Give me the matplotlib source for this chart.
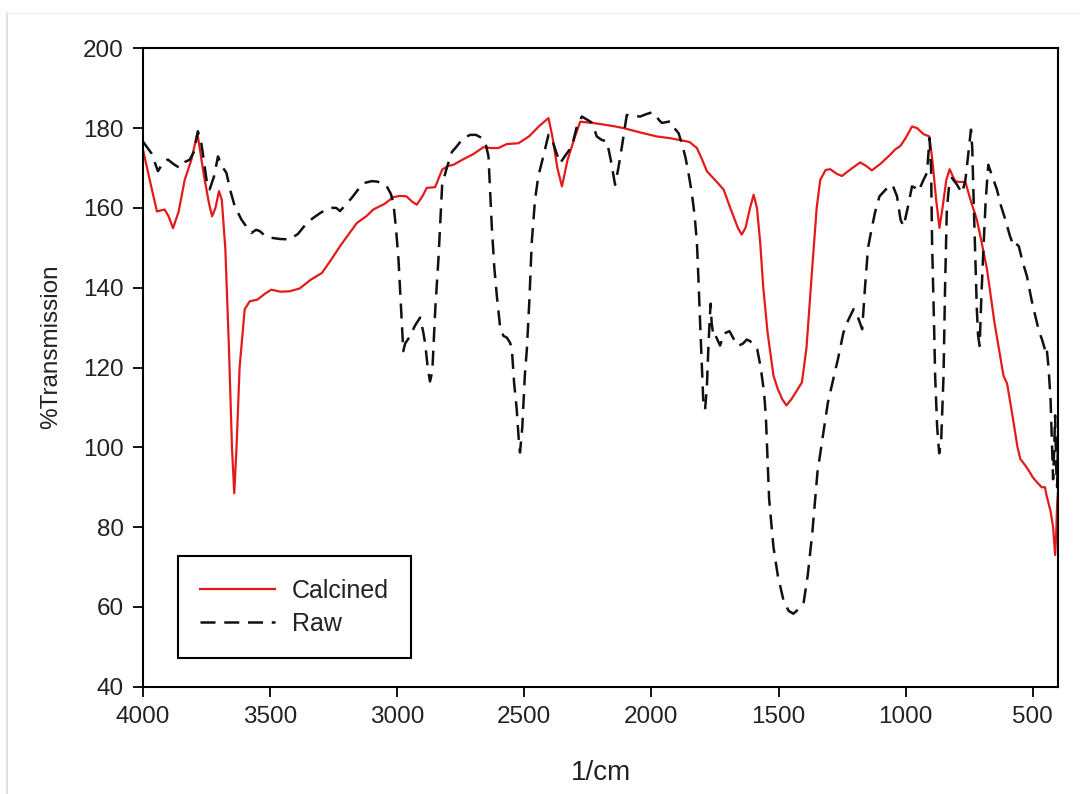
import matplotlib
matplotlib.use("Agg")
import matplotlib.pyplot as plt
from matplotlib.lines import Line2D

plt.rcParams['font.family'] = ['Liberation Sans', 'DejaVu Sans']

# Calcined sample (red, solid) - wavenumber (1/cm), %T
calc_x = [4000, 3970, 3945, 3915, 3900, 3882, 3860, 3836, 3810, 3786, 3760, 3740, 3728, 3715,
          3701, 3690, 3676, 3662, 3650, 3641, 3632, 3620, 3600, 3580, 3550, 3520, 3495, 3460,
          3423, 3384, 3340, 3296, 3260, 3225, 3190, 3159, 3120, 3094, 3050, 3015, 2990, 2964,
          2940, 2923, 2900, 2884, 2851, 2823, 2800, 2779, 2740, 2700, 2661, 2630, 2602, 2569,
          2523, 2480, 2440, 2405, 2390, 2370, 2352, 2330, 2300, 2280, 2233, 2200, 2150, 2110,
          2050, 1979, 1930, 1887, 1850, 1821, 1800, 1782, 1750, 1716, 1690, 1660, 1645, 1630,
          1612, 1598, 1585, 1572, 1560, 1543, 1520, 1503, 1485, 1469, 1450, 1430, 1408, 1390,
          1367, 1350, 1336, 1315, 1297, 1270, 1251, 1220, 1179, 1155, 1133, 1100, 1061, 1042,
          1021, 1000, 975, 955, 930, 907, 895, 880, 867, 855, 840, 827, 815, 805, 790, 765,
          745, 720, 700, 680, 650, 615, 601, 580, 560, 549, 530, 516, 500, 483, 465, 452,
          446, 430, 420, 412, 408, 404, 400]
calc_y = [174.6, 166, 159.1, 159.6, 158, 154.9, 159, 167, 172, 178.7, 168, 161, 157.9, 160,
          164.2, 162, 149.6, 125, 100, 88.5, 100, 120, 134.6, 136.6, 137, 138.5, 139.5, 139,
          139.1, 139.8, 142, 143.7, 147, 150.4, 153.5, 156.2, 158, 159.6, 161, 162.7, 163, 162.9,
          161.5, 160.8, 163, 165, 165.2, 169.6, 170.5, 170.8, 172.2, 173.5, 175.2, 175, 175, 176,
          176.2, 178, 180.6, 182.5, 178, 170, 165.4, 172, 178, 181.6, 181.3, 181, 180.5, 180,
          179, 177.9, 177.5, 177, 176.5, 175, 172, 169.2, 167, 164.6, 160, 155, 153.3, 155,
          160, 163.3, 160, 151.2, 140, 128.7, 118, 114.6, 112, 110.5, 112, 114, 116.3, 125,
          145.4, 160, 167, 169.5, 169.7, 168.5, 168, 169.5, 171.4, 170.5, 169.4, 171, 173.3, 174.6,
          175.5, 177.5, 180.4, 180, 178.5, 177.9, 172, 162, 155, 160, 167, 169.7, 168, 166.7, 166.5, 166.5,
          162, 157.1, 151, 144.6, 131, 117.9, 116, 108, 100, 97.1, 95.5, 94.2, 92.5, 91.2, 90, 90,
          88, 84, 80, 73, 78, 86, 89.6]

# Raw sample (black, dashed)
raw_x = [4000, 3967, 3941, 3920, 3902, 3880, 3856, 3835, 3816, 3800, 3784, 3770, 3750, 3738,
         3720, 3705, 3690, 3672, 3655, 3639, 3613, 3590, 3574, 3555, 3541, 3520, 3495, 3460,
         3423, 3390, 3356, 3330, 3303, 3280, 3257, 3240, 3225, 3200, 3179, 3155, 3133, 3100,
         3080, 3060, 3041, 3025, 3015, 3005, 2995, 2985, 2976, 2969, 2949, 2930, 2910, 2898,
         2890, 2880, 2871, 2862, 2850, 2838, 2830, 2823, 2805, 2785, 2766, 2740, 2713, 2690,
         2667, 2650, 2641, 2635, 2628, 2618, 2608, 2595, 2582, 2569, 2556, 2549, 2540, 2530,
         2522, 2517, 2508, 2498, 2490, 2480, 2471, 2458, 2445, 2425, 2405, 2390, 2375, 2359,
         2340, 2313, 2295, 2274, 2250, 2233, 2215, 2195, 2175, 2160, 2143, 2130, 2116, 2105,
         2097, 2070, 2044, 2020, 1995, 1985, 1970, 1959, 1940, 1926, 1910, 1893, 1880, 1867,
         1855, 1841, 1830, 1821, 1815, 1808, 1800, 1795, 1789, 1782, 1776, 1770, 1767, 1763,
         1755, 1747, 1730, 1715, 1693, 1675, 1659, 1640, 1625, 1612, 1595, 1584, 1570, 1557,
         1550, 1537, 1520, 1503, 1480, 1460, 1442, 1420, 1401, 1385, 1367, 1347, 1325, 1306,
         1285, 1265, 1245, 1225, 1205, 1190, 1171, 1160, 1148, 1137, 1120, 1103, 1080, 1061,
         1050, 1034, 1020, 1008, 992, 975, 962, 949, 930, 916, 906, 900, 896, 888, 884, 876,
         868, 860, 851, 845, 838, 830, 818, 800, 778, 765, 756, 743, 738, 733, 726, 720,
         715, 709, 702, 693, 685, 675, 660, 641, 625, 608, 590, 575, 565, 555, 540, 523,
         505, 490, 475, 464, 452, 446, 438, 430, 424, 420, 416, 412, 408, 404, 400]
raw_y = [176.6, 173.7, 169.2, 171.5, 172.1, 171, 170, 171.5, 172.1, 174, 179.2, 176, 167, 164.6,
         168, 172.9, 170.5, 168.8, 164, 160.4, 157.1, 155, 153.7, 154.5, 154.2, 153, 152.5, 152.2,
         152.1, 153.5, 156.2, 157.5, 158.7, 159.6, 160, 160, 159.2, 161, 162.5, 164.5, 166.2, 166.7,
         166.6, 166.2, 165.4, 163.5, 161.2, 155, 147.1, 135, 124.1, 126, 127.9, 130.5, 132.5, 129,
         126, 120, 116.5, 119, 135, 147, 157, 166, 170, 174, 175.4, 177.5, 178.3, 178.3,
         177.5, 175.5, 172.9, 165, 155.4, 145, 137.9, 130, 127.9, 127.5, 126.2, 124.6, 116, 109.6,
         102, 98.7, 105, 118, 124.6, 137, 151.2, 162, 167.9, 173, 178.3, 177, 174, 171.2,
         173, 175.4, 180, 182.9, 182, 181.3, 177.9, 177, 176.7, 172, 165.8, 170, 175.4, 180,
         183.3, 183, 182.9, 183.5, 184, 183.3, 182, 181.3, 181.5, 181.7, 180, 178.7, 176, 172.9,
         169, 163.7, 158, 151.2, 142, 130.4, 118, 110, 109.5, 115, 125, 133, 136, 131,
         127.5, 127.9, 125.5, 128.5, 129.1, 127, 125.4, 126, 127, 126.6, 125.5, 124.6, 120, 113.7,
         107.9, 87, 75, 67.9, 61.5, 59, 58.3, 59.5, 61.2, 68, 78.7, 93.7, 103, 111.2,
         117, 122.5, 128.7, 132, 134.6, 133, 129.6, 140, 150, 153.7, 159, 162.9, 164.5, 165.8,
         165.5, 162.9, 157, 155.4, 160, 165.4, 165, 164.2, 167, 168.8, 177.5, 170, 151.2, 130, 117.9, 105,
         98.5, 102, 117.9, 140, 159.6, 165, 167.5, 166, 163.7, 167, 172.1, 179.6, 175, 162.9, 148, 134.6,
         128, 125.4, 138, 151.2, 162, 170.8, 168, 164.6, 160.5, 157.1, 153, 150.4, 151, 150.4, 146.5, 142.9,
         137, 132.9, 129, 127.1, 124.5, 125.4, 120, 112, 100, 92, 99, 108, 95, 90, 105]

y_ticks = [40, 60, 80, 100, 120, 140, 160, 180, 200]
x_ticks = [4000, 3500, 3000, 2500, 2000, 1500, 1000, 500]

fig = plt.figure(figsize=(10.8, 7.94), dpi=100)
ax = fig.add_axes([0.1324, 0.1351, 0.8474, 0.8041])

ax.plot(calc_x, calc_y, color='#e41a1a', lw=1.6, label='Calcined')
ax.plot(raw_x, raw_y, color='#111111', lw=1.8, dashes=(6, 3.5), label='Raw')

ax.set_xlim(4000, 400)
ax.set_ylim(40, 200)
ax.set_xticks(x_ticks)
ax.set_yticks(y_ticks)
ax.tick_params(axis='both', direction='out', length=7, width=1.3, labelsize=17.5, colors='black',
               labelcolor='#222222')
ax.tick_params(axis='x', pad=7)
ax.tick_params(axis='y', pad=7)
ax.tick_params(top=False, right=False)
for sp in ax.spines.values():
    sp.set_linewidth(1.5)

ax.set_xlabel('1/cm', fontsize=20, color='#222222')
ax.set_ylabel('%Transmission', fontsize=17.5, color='#222222')
ax.xaxis.set_label_coords(0.5, -0.115)
ax.yaxis.set_label_coords(-0.088, 0.533)

leg = ax.legend(loc='lower left', bbox_to_anchor=(0.038, 0.045), borderaxespad=0,
                fontsize=18, frameon=True, fancybox=False, framealpha=1,
                handlelength=3.0, handletextpad=0.65, borderpad=0.9, labelspacing=0.35)
leg.get_frame().set_edgecolor('black')
leg.get_frame().set_linewidth(1.5)
for t in leg.get_texts():
    t.set_color('#222222')

# faint page border of the source image
fig.add_artist(Line2D([0.0065, 0.0065], [0.0, 0.984], color='#dddddd', lw=1.2))
fig.add_artist(Line2D([0.0065, 1.0], [0.984, 0.984], color='#eeeeee', lw=1.0))

fig.savefig('out.png', dpi=100)
